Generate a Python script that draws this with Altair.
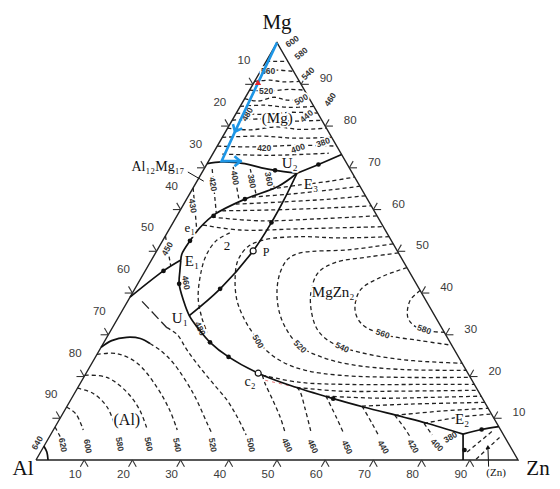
import math
import altair as alt
import pandas as pd

# ------------------------------------------------------------------
# Data: every point is a composition (Zn %, Mg %); Al = 100 - Zn - Mg
# ------------------------------------------------------------------
tick_values = [10, 20, 30, 40, 50, 60, 70, 80, 90]

# solid phase boundaries
al12mg17_to_u2 = [(0.0, 71.0), (2.8, 71.4), (7.8, 71.0), (11.8, 70.0), (14.9, 69.4), (19.8, 68.7)]
u2_to_edge = [(19.8, 68.7), (23.2, 70.8), (26.8, 73.2)]
u2_to_e1 = [(19.8, 68.7), (17.5, 65.6), (12.1, 62.5), (7.7, 58.9), (6.2, 55.7), (5.7, 52.5), (5.6, 49.3), (6.1, 47.9)]
e1_to_edge = [(6.1, 47.9), (3.8, 45.3), (0.0, 39.0)]
e1_to_e2 = [(6.1, 47.9), (7.2, 45.3), (8.6, 42.2), (11.5, 38.2), (14.5, 34.6), (18.5, 31.0), (22.0, 28.2),
            (27.6, 24.7), (35.7, 20.8), (43.7, 17.9), (54.3, 14.7), (61.6, 12.7), (71.0, 10.3), (76.7, 8.8),
            (85.5, 6.2)]
e2_to_bottom = [(85.5, 6.2), (88.6, 0.0)]
e2_to_edge = [(85.5, 6.2), (88.8, 7.3), (92.0, 8.0)]
u1_to_u2 = [(14.5, 34.6), (17.7, 41.0), (20.0, 50.1), (20.4, 56.9), (20.3, 62.0), (19.8, 68.7)]
al_solvus = [(0.0, 27.0), (1.4, 28.6), (4.1, 29.4), (7.1, 29.1), (9.7, 27.9)]
al_corner_640 = [(0.0, 3.3), (1.3, 1.9), (2.5, 0.0)]
zn_arrow = [(94.7, -1.6), (92.2, 3.1)]
al12mg17_leader = [(-3.0, 69.0), (1.4, 66.8)]

# dashed isotherms
mg_rows = [
    [(0, 95.5), (4.5, 95.5)],
    [(0, 93.1), (3.5, 93.4), (6.9, 93.1)],
    [(0, 90.7), (3.0, 91.0), (6.0, 90.6), (9.3, 90.7)],
    [(0, 88.6), (4.0, 88.4), (8.0, 88.8), (11.4, 88.6)],
    [(0, 86.6), (3.0, 86.0), (6.0, 86.9), (9.0, 86.2), (13.4, 86.6)],
    [(0, 84.7), (5.0, 85.0), (10.0, 84.5), (15.3, 84.7)],
    [(0, 83.1), (6.0, 82.8), (11.0, 83.3), (16.9, 83.1)],
    [(0, 81.4), (6.0, 81.7), (12.0, 81.2), (18.6, 81.4)],
    [(0, 79.5), (5.0, 79.1), (10.0, 79.8), (15.0, 79.2), (20.5, 79.5)],
    [(0, 77.3), (8.0, 77.6), (15.0, 77.1), (22.7, 77.3)],
    [(0, 75.2), (8.0, 75.0), (16.0, 75.4), (24.8, 75.2)],
    [(2.0, 73.3), (12.0, 73.0), (24.0, 73.5)],
]
al12mg17_isotherms = [
    [(1.7, 69.7), (7.8, 59.2)],
    [(5.8, 70.2), (11.1, 62.1)],
    [(9.6, 69.7), (13.8, 63.7)],
    [(13.3, 69.2), (16.7, 65.4)],
    [(0.0, 65.2), (5.8, 55.1)],
    [(0.0, 53.7), (4.7, 46.5)],
]
upper_rows = [
    [(16.1, 64.9), (21.8, 65.9), (27.6, 66.8), (32.2, 67.8)],
    [(13.3, 63.0), (20.8, 63.7), (28.7, 64.7), (34.4, 65.6)],
    [(10.8, 61.3), (19.7, 61.8), (29.7, 62.5), (36.7, 63.3)],
    [(8.8, 59.7), (18.6, 59.9), (30.8, 60.4), (39.1, 60.9)],
    [(7.4, 58.2), (17.8, 57.3), (30.0, 57.8), (41.5, 58.5)],
    [(6.5, 56.3), (14.8, 55.1), (27.1, 55.4), (44.1, 55.9)],
]
mgzn2_arcs = [
    [(13.0, 54.4), (11.1, 52.5), (10.8, 48.9), (12.0, 44.2), (14.3, 38.7), (17.5, 33.9), (20.2, 30.6)],
    [(46.5, 53.5), (36.5, 53.2), (28.0, 53.5), (21.1, 52.8), (18.4, 51.1), (18.0, 47.7), (19.8, 43.0),
     (22.6, 38.2), (26.2, 33.9), (29.9, 30.3), (34.6, 26.3), (39.6, 23.4), (45.1, 21.5), (52.9, 20.3),
     (65.6, 19.8), (80.2, 19.8)],
    [(48.2, 51.8), (40.0, 50.4), (30.0, 49.6), (28.2, 48.2), (28.2, 44.9), (29.7, 40.6), (32.5, 35.8),
     (36.1, 31.5), (41.2, 27.2), (47.1, 24.6), (53.7, 22.9), (64.7, 21.7), (78.5, 21.5)],
    [(50.4, 49.6), (45.0, 48.7), (38.4, 47.3), (36.1, 44.9), (36.8, 40.6), (39.2, 35.8), (43.0, 31.0),
     (47.7, 27.9), (54.3, 25.8), (63.5, 24.1), (72.1, 23.4), (76.8, 23.2)],
    [(53.9, 46.1), (49.5, 43.7), (46.9, 40.6), (48.3, 35.8), (51.4, 32.5), (57.0, 30.1), (65.4, 28.6),
     (72.5, 27.5)],
    [(59.4, 40.6), (58.5, 38.2), (60.1, 34.1), (63.2, 31.7), (66.8, 30.8), (69.4, 30.6)],
]
mgzn2_low_rows = [
    [(36.8, 20.3), (45.5, 18.6), (56.1, 18.1), (70.6, 18.1), (81.9, 18.1)],
    [(45.4, 17.4), (54.8, 16.5), (67.3, 16.5), (83.3, 16.7)],
    [(52.5, 15.3), (64.0, 14.8), (74.2, 15.0), (84.7, 15.3)],
    [(61.2, 12.9), (70.9, 13.4), (86.2, 13.8)],
    [(69.1, 10.7), (78.0, 11.7), (87.6, 12.4)],
    [(76.1, 8.8), (82.9, 10.3), (89.0, 11.0)],
]
al_field_isotherms = [
    [(0.0, 7.9), (3.0, 4.8)],
    [(0.0, 12.7), (2.8, 11.0), (6.2, 7.2)],
    [(0.0, 17.2), (3.8, 16.0), (8.4, 12.7), (12.5, 7.9)],
    [(0.0, 20.3), (4.8, 19.8), (10.8, 16.2), (15.6, 11.9), (19.5, 7.2)],
    [(0.0, 25.3), (4.0, 25.5), (9.4, 23.2), (16.4, 17.4), (21.8, 11.9), (25.7, 7.2)],
    [(9.7, 27.9), (12.6, 26.3), (16.9, 23.2), (24.6, 16.0), (31.1, 8.8), (33.0, 6.7)],
    [(11.3, 31.7), (14.2, 30.1), (18.2, 26.3), (22.9, 22.2), (27.5, 18.4), (32.5, 14.3), (36.6, 10.3),
     (40.6, 6.0)],
    [(36.8, 20.3), (38.3, 18.4), (42.0, 14.3), (45.5, 10.3), (48.3, 6.7)],
    [(45.4, 17.4), (46.5, 16.5), (49.6, 12.4), (53.7, 6.7)],
    [(52.5, 15.3), (57.4, 10.0), (60.8, 6.2)],
    [(61.2, 12.9), (65.3, 8.8), (68.3, 5.7)],
    [(69.1, 10.7), (72.9, 7.4), (74.9, 5.5)],
    [(76.1, 8.8), (79.2, 6.0)],
    [(88.5, 1.9), (91.2, 6.9)],
    [(91.2, 0.2), (93.5, 5.5)],
]
al_long_dash = [(3.0, 38.0), (11.3, 31.7)]
red_trace = [(38.0, 19.1), (46.2, 17.2)]

# blue path and its marks
blue_path = [(0.0, 100.0), (1.9, 79.2), (2.7, 71.6), (6.9, 71.6)]
blue_heads = [(1.9, 79.2), (6.1, 71.6)]
red_mark = [(0.8, 90.5)]

line_dots = [(14.9, 69.4), (23.2, 70.8), (12.1, 62.5), (7.6, 58.5), (5.7, 52.5), (3.8, 45.3), (8.6, 42.2),
             (17.7, 41.0), (20.4, 56.9), (22.0, 28.2), (27.6, 24.7), (54.3, 14.7), (88.8, 7.3), (87.7, 2.4)]
open_points = [(20.0, 50.1), (35.7, 20.8)]
zn_arrow_head = [(92.2, 3.1)]

# isotherm temperature labels
iso_text = ["600", "580", "560", "540", "520", "500", "480", "460", "440", "420", "400", "380",
            "420", "400", "380", "360", "430", "450",
            "460", "480", "500", "520", "540", "560", "580",
            "640", "620", "600", "580", "560", "540", "520", "500", "480", "460", "450", "440", "420",
            "400", "380"]
iso_pos = [(3.0, 100.3), (6.3, 97.4), (1.6, 93.1), (10.1, 92.6), (3.6, 88.3), (11.8, 86.4), (2.4, 82.8),
           (17.8, 86.4), (14.9, 82.4), (10.0, 74.7), (17.0, 74.7), (21.5, 76.1),
           (3.7, 66.1), (7.5, 67.6), (11.4, 66.8), (14.7, 67.3), (2.1, 60.9), (1.9, 50.6),
           (9.9, 42.5), (18.3, 31.5), (31.9, 28.4), (41.2, 27.2), (50.0, 27.0), (56.8, 30.3), (64.9, 31.3),
           (-1.8, 4.1), (3.8, 3.6), (9.1, 3.3), (15.5, 3.8), (21.5, 3.8), (27.5, 3.6), (34.9, 3.6),
           (42.8, 3.6), (50.3, 3.6), (55.8, 3.3), (63.0, 3.1), (70.5, 3.1), (76.6, 3.3), (81.4, 3.6),
           (83.2, 5.5)]

# phase-field / point labels
phase_text = ["(Mg)", "Al₁₂Mg₁₇", "U₂", "E₃", "e₁", "E₁", "2", "P", "U₁", "MgZn₂", "c₂", "(Al)", "E₂", "(Zn)"]
phase_pos = [(9.1, 81.9), (-9.8, 70.2), (17.1, 71.1), (24.0, 66.1), (4.1, 55.6), (8.5, 47.7), (14.0, 51.3),
             (22.8, 49.9), (12.8, 34.1), (41.5, 40.3), (35.1, 18.6), (14.1, 9.5), (83.5, 9.8), (97.0, -3.1)]

vertex_text = ["Mg", "Al", "Zn"]
vertex_pos = [(0.0, 100.0), (0.0, 0.0), (100.0, 0.0)]

# ------------------------------------------------------------------
# Styling (not data)
# ------------------------------------------------------------------
iso_angles = [325, 320, 0, 315, 0, 330, 300, 305, 320, 0, 340, 340,
              80, 80, 80, 80, 80, 300,
              80, 65, 60, 45, 25, 20, 20,
              300, 80, 80, 80, 80, 80, 80, 80, 65, 65, 65, 60, 60, 45, 330]
phase_sizes = [15, 14, 15, 15, 13, 15, 13, 12, 15, 15, 14, 16, 15, 11]

S3 = math.sqrt(3) / 2
SERIF = "Liberation Serif, DejaVu Serif, serif"
SANS = "Liberation Sans, Arial, DejaVu Sans, sans-serif"
XS = alt.Scale(domain=[-5.809, 107.05], nice=False, zero=False)
YS = alt.Scale(domain=[-4.357, 93.78], nice=False, zero=False)


def to_xy(z, m):
    return z + m / 2.0, m * S3


def xenc():
    return alt.X("X:Q", scale=XS, axis=None)


def yenc():
    return alt.Y("Y:Q", scale=YS, axis=None)


def line_layer(groups, **mark):
    rows = []
    for gid, pts in enumerate(groups):
        for i, (z, m) in enumerate(pts):
            x, y = to_xy(z, m)
            rows.append({"id": gid, "o": i, "X": x, "Y": y})
    return alt.Chart(pd.DataFrame(rows)).mark_line(**mark).encode(
        x=xenc(), y=yenc(), detail="id:N", order="o:Q")


def point_layer(pts, angles=None, **mark):
    rows = []
    for i, (z, m) in enumerate(pts):
        x, y = to_xy(z, m)
        r = {"X": x, "Y": y}
        if angles is not None:
            r["a"] = angles[i]
        rows.append(r)
    enc = dict(x=xenc(), y=yenc())
    if angles is not None:
        enc["angle"] = alt.Angle("a:Q", scale=None)
    return alt.Chart(pd.DataFrame(rows)).mark_point(**mark).encode(**enc)


def text_frame(texts, pts, angles=None, sizes=None):
    rows = []
    for i, (t, (z, m)) in enumerate(zip(texts, pts)):
        x, y = to_xy(z, m)
        r = {"t": t, "X": x, "Y": y, "a": angles[i] if angles else 0, "s": sizes[i] if sizes else 10}
        rows.append(r)
    return pd.DataFrame(rows)


def text_layers(df, halo=True, use_size=False, **mark):
    enc = dict(x=xenc(), y=yenc(), text=alt.Text("t:N"), angle=alt.Angle("a:Q", scale=None))
    if use_size:
        enc["size"] = alt.Size("s:Q", scale=None, legend=None)
    out = []
    if halo:
        hm = dict(mark)
        hm.update(fill="white", stroke="white", strokeWidth=3.5, strokeJoin="round")
        out.append(alt.Chart(df).mark_text(**hm).encode(**enc))
    out.append(alt.Chart(df).mark_text(**mark).encode(**enc))
    return out


layers = []

# triangle frame
layers.append(line_layer([[(0, 0), (100, 0), (0, 100), (0, 0)]], color="#222", strokeWidth=1.4))

# ticks
L = 1.6
tick_rows = []
for t in tick_values:
    bx, by = to_xy(t, 0)
    for dx, dy in [(-0.5 * L, -S3 * L), (0.5 * L, -S3 * L)]:
        tick_rows.append({"X": bx, "Y": by, "X2": bx + dx, "Y2": by + dy})
    lx, ly = to_xy(0, 100 - t)
    for dx, dy in [(-L, 0), (-0.5 * L, S3 * L)]:
        tick_rows.append({"X": lx, "Y": ly, "X2": lx + dx, "Y2": ly + dy})
    rx, ry = to_xy(100 - t, t)
    for dx, dy in [(L, 0), (0.5 * L, S3 * L)]:
        tick_rows.append({"X": rx, "Y": ry, "X2": rx + dx, "Y2": ry + dy})
layers.append(alt.Chart(pd.DataFrame(tick_rows)).mark_rule(color="#333", strokeWidth=1.1).encode(
    x=xenc(), y=yenc(), x2="X2:Q", y2="Y2:Q"))

# tick labels
lbl = [str(t) for t in tick_values]
bottom_df = text_frame(lbl, [(t, 0) for t in tick_values])
left_df = text_frame(lbl, [(0, 100 - t) for t in tick_values])
right_df = text_frame(lbl, [(100 - t, t) for t in tick_values])
tick_font = dict(font=SANS, fontSize=11.5, color="#3a3a3a")
layers += text_layers(bottom_df, halo=False, dx=-9, dy=18, baseline="alphabetic", **tick_font)
layers += text_layers(left_df, halo=False, dx=-9, dy=-23, baseline="middle", **tick_font)
layers += text_layers(right_df, halo=False, dx=25, dy=-5, baseline="middle", **tick_font)

# dashed isotherms
dash_groups = mg_rows + al12mg17_isotherms + upper_rows + mgzn2_arcs + mgzn2_low_rows + al_field_isotherms
layers.append(line_layer(dash_groups, color="#222", strokeWidth=1.3, strokeDash=[4, 3],
                         interpolate="catmull-rom"))
layers.append(line_layer([al_long_dash], color="#222", strokeWidth=1.3, strokeDash=[10, 4]))
layers.append(line_layer([red_trace], color="#e04040", strokeWidth=1.0, strokeDash=[3, 4], opacity=0.7))

# isotherm labels
iso_df = text_frame(iso_text, iso_pos, angles=iso_angles)
layers += text_layers(iso_df, font=SANS, fontSize=8.5, fontWeight="bold", color="#333",
                      align="center", baseline="middle")

# solid boundaries
solid_groups = [al12mg17_to_u2, u2_to_edge, u2_to_e1, e1_to_edge, e1_to_e2, e2_to_bottom, e2_to_edge,
                u1_to_u2, al_solvus, al_corner_640]
layers.append(line_layer(solid_groups, color="#111", strokeWidth=1.7, interpolate="catmull-rom"))
layers.append(line_layer([zn_arrow, al12mg17_leader], color="#111", strokeWidth=1.0))

# markers on the lines
layers.append(point_layer(line_dots, filled=True, color="#111", size=22, opacity=1))
layers.append(point_layer(open_points, filled=True, fill="white", stroke="#111", strokeWidth=1.2,
                          size=36, opacity=1))
layers.append(point_layer(zn_arrow_head, filled=True, color="#111", shape="triangle-up", size=22,
                          opacity=1))

# blue path
layers.append(line_layer([blue_path], color="#1e96e6", strokeWidth=2.6))
layers.append(point_layer(blue_heads, angles=[205, 90], shape="M-1,0.7L0,-0.5L1,0.7", filled=False,
                          stroke="#1e96e6", strokeWidth=2.6, size=100, opacity=1))
layers.append(point_layer(red_mark, filled=True, color="#e0262b", shape="triangle-up", size=40, opacity=1))

# phase labels
phase_df = text_frame(phase_text, phase_pos, sizes=phase_sizes)
layers += text_layers(phase_df, use_size=True, font=SERIF, color="#111", align="center", baseline="middle")

# vertex labels
vfont = dict(font=SERIF, fontSize=21, color="#111", baseline="alphabetic", align="center")
layers += text_layers(text_frame(vertex_text[:1], vertex_pos[:1]), halo=False, dy=-14, **vfont)
layers += text_layers(text_frame(vertex_text[1:2], vertex_pos[1:2]), halo=False, dx=-13, dy=15, **vfont)
layers += text_layers(text_frame(vertex_text[2:], vertex_pos[2:]), halo=False, dx=20, dy=15, **vfont)

chart = alt.layer(*layers).properties(
    width=544, height=473, padding=0, autosize=alt.AutoSizeParams(type="none"),
    background="white",
).configure_view(stroke=None)

chart.save("out.html", embed_options={"renderer": "svg", "actions": False})
